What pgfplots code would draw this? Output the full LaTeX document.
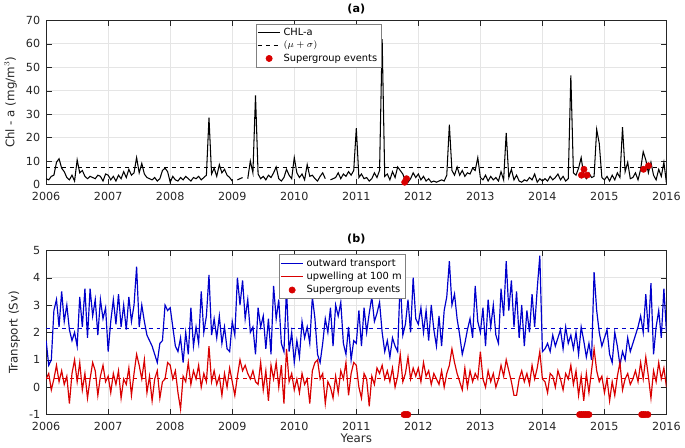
\documentclass[border=0pt]{standalone}
\usepackage{fontspec}
\setmainfont{DejaVu Sans}
\usepackage{pgfplots}
\usepackage{pgfplotstable}
\pgfplotsset{compat=1.18}

% half-monthly values, 2006.0 to 2016.0
\pgfplotstableread[row sep=\\]{
y\\
2.5\\2.0\\3.5\\4.0\\9.5\\11.0\\7.0\\5.5\\3.0\\2.0\\4.0\\1.5\\10.5\\5.0\\6.0\\3.5\\2.5\\3.5\\3.0\\2.5\\4.0\\3.5\\1.5\\4.5\\
4.0\\2.0\\3.5\\1.5\\4.0\\2.5\\5.5\\3.0\\6.5\\4.0\\5.0\\11.5\\5.0\\9.0\\4.5\\3.0\\2.5\\2.0\\3.0\\1.5\\2.5\\6.0\\7.0\\5.5\\
1.0\\3.5\\2.0\\1.5\\3.0\\2.0\\3.5\\2.5\\1.5\\3.0\\2.5\\3.5\\2.0\\3.0\\4.0\\28.5\\4.5\\7.0\\3.5\\8.5\\5.0\\6.5\\4.0\\3.0\\
1.5\\nan\\2.0\\2.5\\3.0\\nan\\2.5\\10.0\\5.0\\38.0\\4.5\\2.5\\3.5\\2.0\\4.0\\3.0\\5.0\\7.5\\2.5\\1.5\\3.0\\6.5\\4.0\\2.5\\
11.5\\5.0\\3.0\\4.5\\2.0\\8.5\\3.5\\4.0\\2.5\\1.5\\3.5\\5.0\\2.5\\nan\\2.0\\2.5\\3.0\\5.0\\2.5\\4.5\\3.5\\5.5\\4.0\\6.0\\
24.0\\3.0\\4.5\\2.5\\3.0\\1.5\\2.5\\5.0\\3.0\\6.0\\62.0\\3.5\\4.5\\2.0\\5.5\\3.0\\7.5\\6.0\\4.5\\1.5\\1.0\\2.5\\5.0\\3.0\\
4.5\\2.0\\3.5\\1.5\\2.5\\1.0\\1.5\\1.0\\1.5\\2.0\\1.5\\4.0\\25.5\\6.0\\4.0\\7.5\\4.0\\6.0\\3.5\\5.0\\4.5\\7.0\\6.0\\11.5\\
3.0\\2.0\\4.0\\1.5\\3.5\\2.0\\3.0\\1.5\\5.5\\2.0\\22.0\\3.0\\6.5\\2.0\\4.0\\1.5\\1.0\\2.0\\1.5\\3.0\\2.0\\4.5\\1.0\\2.5\\
1.5\\2.5\\1.5\\3.5\\2.0\\3.0\\4.5\\2.0\\3.5\\1.5\\2.5\\46.5\\5.0\\4.0\\7.0\\11.5\\4.0\\2.5\\5.0\\3.0\\3.5\\23.5\\17.5\\3.0\\
2.0\\3.5\\1.5\\4.0\\2.0\\5.0\\3.0\\24.5\\5.5\\9.5\\2.5\\3.0\\5.0\\2.0\\6.5\\14.0\\10.5\\5.0\\9.5\\4.0\\2.0\\6.5\\3.5\\9.5\\
0.5\\
}\chl

\pgfplotstableread[row sep=\\]{
y\\
1.7\\0.8\\1.0\\2.8\\3.2\\2.2\\3.5\\2.4\\3.0\\2.1\\1.7\\2.0\\1.5\\3.3\\2.2\\3.6\\1.8\\3.6\\2.6\\3.2\\1.9\\3.2\\2.5\\2.9\\
1.3\\2.4\\3.2\\2.3\\3.4\\2.2\\3.0\\2.1\\3.3\\2.4\\3.0\\4.4\\2.2\\3.0\\2.4\\1.9\\1.7\\1.5\\1.2\\0.9\\1.6\\1.7\\3.0\\2.8\\
2.9\\2.2\\1.5\\1.3\\1.8\\0.9\\2.0\\1.2\\2.9\\1.5\\2.2\\1.6\\3.5\\2.0\\2.6\\4.1\\1.9\\2.5\\1.8\\2.6\\1.6\\2.2\\1.4\\1.3\\
2.4\\1.9\\4.0\\3.0\\3.9\\2.5\\3.2\\2.0\\2.2\\1.2\\2.9\\2.2\\2.6\\1.4\\2.5\\1.2\\3.7\\2.5\\3.2\\1.6\\1.3\\3.6\\1.3\\2.0\\
0.9\\1.7\\1.1\\2.4\\1.8\\2.2\\1.6\\3.3\\2.5\\1.2\\0.9\\1.6\\2.5\\2.0\\2.9\\1.5\\3.0\\2.6\\3.1\\1.6\\1.2\\2.2\\1.0\\1.7\\
1.6\\2.8\\1.5\\2.9\\2.0\\2.7\\3.3\\2.4\\2.7\\3.1\\2.0\\1.3\\1.7\\1.1\\1.8\\1.5\\1.3\\4.0\\1.9\\2.3\\3.2\\2.0\\4.0\\2.5\\
2.3\\2.9\\2.0\\2.8\\1.7\\3.0\\2.1\\1.5\\2.6\\1.5\\2.8\\3.3\\4.6\\3.0\\3.4\\2.5\\1.9\\1.2\\1.6\\2.1\\2.5\\1.8\\3.7\\2.4\\
2.0\\2.9\\1.5\\3.2\\2.2\\3.0\\1.9\\1.6\\3.6\\2.6\\4.6\\2.8\\3.9\\2.2\\3.5\\1.8\\3.0\\1.5\\2.8\\2.0\\3.4\\2.2\\3.6\\4.8\\
1.3\\1.4\\1.6\\1.3\\1.9\\1.5\\1.8\\2.1\\1.4\\2.2\\1.6\\1.9\\1.4\\2.0\\1.2\\2.2\\1.7\\1.1\\1.6\\1.0\\4.2\\2.8\\2.0\\1.5\\
1.8\\2.1\\1.2\\0.9\\2.0\\1.5\\0.8\\1.3\\1.0\\1.8\\1.3\\1.6\\1.9\\2.2\\2.6\\2.0\\3.4\\2.0\\3.8\\1.2\\2.2\\2.8\\1.8\\3.6\\
2.0\\
}\outward

\pgfplotstableread[row sep=\\]{
y\\
0.3\\0.5\\-0.1\\0.3\\0.8\\0.2\\0.6\\0.1\\0.4\\-0.6\\0.5\\1.0\\0.2\\0.9\\-0.1\\0.5\\-0.4\\0.3\\0.9\\0.6\\-0.3\\0.4\\0.8\\0.2\\
0.4\\-0.2\\0.5\\0.1\\0.6\\-0.4\\0.3\\0.1\\0.7\\-0.3\\0.5\\1.2\\0.8\\0.3\\1.0\\-0.2\\0.4\\-0.5\\0.3\\0.6\\-0.4\\0.2\\0.3\\0.9\\
0.8\\0.3\\0.6\\-0.2\\-0.8\\0.4\\0.2\\0.9\\0.1\\0.6\\0.3\\0.8\\0.0\\0.5\\0.2\\1.5\\0.2\\0.6\\0.1\\0.4\\-0.3\\0.5\\0.0\\0.7\\
0.2\\-0.3\\0.4\\1.0\\0.6\\0.8\\0.5\\0.3\\0.6\\0.2\\0.1\\0.9\\-0.1\\0.6\\-0.5\\0.8\\0.3\\0.9\\0.0\\0.8\\-0.6\\1.4\\0.2\\0.5\\
-0.1\\0.3\\-0.2\\0.5\\0.1\\0.3\\-0.6\\0.6\\0.9\\1.0\\0.3\\0.5\\-0.6\\0.2\\0.0\\-0.4\\0.4\\-0.2\\0.6\\0.3\\0.9\\-0.3\\0.5\\0.9\\
0.8\\0.0\\-0.4\\0.5\\0.3\\-0.7\\0.4\\0.1\\0.7\\0.5\\0.8\\0.3\\0.6\\0.2\\0.7\\0.0\\0.4\\1.2\\0.2\\0.5\\1.1\\0.3\\0.7\\0.4\\
0.7\\0.2\\0.9\\0.4\\0.6\\0.1\\0.5\\0.3\\0.1\\0.6\\0.0\\0.5\\0.8\\1.4\\0.9\\0.5\\0.2\\-0.1\\0.7\\0.0\\0.6\\0.2\\0.5\\0.3\\
1.3\\0.3\\0.0\\0.6\\0.2\\0.5\\0.0\\0.3\\0.8\\0.4\\1.0\\0.6\\0.2\\-0.3\\-0.3\\0.3\\0.6\\0.2\\0.5\\0.1\\0.8\\0.3\\0.7\\1.3\\
0.3\\0.2\\-0.2\\0.5\\0.4\\0.0\\0.6\\0.3\\-0.1\\0.5\\0.3\\0.8\\0.1\\0.6\\-0.3\\0.4\\-0.5\\0.5\\-0.2\\0.6\\1.4\\0.6\\0.2\\0.4\\
-0.2\\0.3\\-0.5\\0.2\\-0.3\\0.4\\0.9\\-0.1\\0.3\\0.5\\0.1\\0.3\\0.6\\0.2\\0.9\\0.3\\1.1\\0.4\\-0.4\\0.6\\0.2\\0.9\\0.3\\0.7\\
0.0\\
}\upwelling

\definecolor{mblue}{rgb}{0,0,0.8}
\definecolor{mred}{rgb}{0.85,0,0}
\definecolor{axgray}{gray}{0.15}

\pgfplotsset{
  myax/.style={
    scale only axis, width=472pt, height=125pt,
    xmin=2006, xmax=2016,
    xtick={2006,2007,...,2016},
    minor x tick num=3,
    /pgf/number format/1000 sep={},
    /pgf/number format/assume math mode=true,
    tick align=inside,
    grid=major,
    major grid style={gray!20},
    axis line style={axgray},
    tick style={axgray},
    ticklabel style={font=\fontsize{8.5}{10}\selectfont, text=axgray},
    xticklabel style={yshift=-2pt},
    yticklabel style={xshift=-1pt},
    label style={font=\fontsize{9}{10}\selectfont, text=axgray},
    title style={font=\fontsize{8.5}{10}\selectfont\bfseries, yshift=-5pt},
    legend style={draw=gray, font=\fontsize{7.5}{8}\selectfont, cells={anchor=west},
      inner sep=1pt, row sep=-1pt},
    legend cell align=left,
    unbounded coords=jump,
  }
}

\begin{document}
\begin{tikzpicture}
\begin{axis}[myax,
  ymin=0, ymax=70, ytick={0,10,...,70},
  ylabel={Chl - a (mg/m$^3$)},
  title={(a)},
  legend style={at={(0.338,0.98)}, anchor=north west},
]
\addplot[black, line width=0.8pt] table[x expr=2006+\coordindex/24, y=y] {\chl};
\addlegendentry{CHL-a}
\addplot[black, dashed, line width=0.8pt] coordinates {(2006,7.3) (2016,7.3)};
\addlegendentry{$(\mu+\sigma)$}
\addplot[only marks, mark=*, mark size=2.4pt, mred] coordinates {
(2011.78,1.0) (2011.81,2.5) (2014.63,4.0) (2014.67,6.5) (2014.72,4.0) (2015.63,6.5) (2015.71,8.0)};
\addlegendentry{Supergroup events}
\end{axis}

\begin{axis}[myax, at={(0pt,-175pt)},
  ymin=-1, ymax=5, ytick={-1,0,...,5},
  ylabel={Transport (Sv)},
  xlabel={Years},
  xlabel style={yshift=4pt},
  title={(b)},
  legend style={at={(0.375,0.975)}, anchor=north west},
]
\addplot[mblue, line width=0.9pt] table[x expr=2006+\coordindex/24, y=y] {\outward};
\addlegendentry{outward transport}
\addplot[mred, line width=0.9pt] table[x expr=2006+\coordindex/24, y=y] {\upwelling};
\addlegendentry{upwelling at 100 m}
\addplot[only marks, mark=*, mark size=2.4pt, mred] coordinates {
(2011.77,-1) (2011.80,-1) (2011.83,-1)
(2014.60,-1) (2014.63,-1) (2014.66,-1) (2014.69,-1) (2014.72,-1) (2014.75,-1)
(2015.60,-1) (2015.63,-1) (2015.66,-1) (2015.70,-1)};
\addlegendentry{Supergroup events}
\addplot[mblue, dashed, line width=0.8pt, forget plot] coordinates {(2006,2.15) (2016,2.15)};
\addplot[mred, dashed, line width=0.8pt, forget plot] coordinates {(2006,0.3) (2016,0.3)};
\end{axis}
\end{tikzpicture}
\end{document}
